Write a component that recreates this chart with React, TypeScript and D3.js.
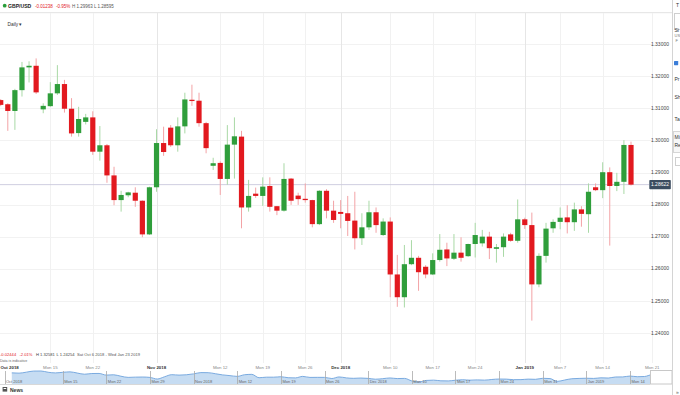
import React from "react";
import * as d3 from "d3";

// GBP/USD daily candles, Sun Oct 7 2018 .. Fri Jan 18 2019 (6 bars per week)
const opens = [
  1.3126, 1.3113, 1.3092, 1.3157, 1.3228, 1.3233, 1.3097, 1.3107, 1.3147, 1.3176,
  1.3099, 1.3023, 1.3058, 1.3072, 1.2965, 1.2985, 1.2891, 1.2814, 1.2829, 1.2837,
  1.2812, 1.2707, 1.2854, 1.2992, 1.3040, 1.2985, 1.3044, 1.3127, 1.3124, 1.3054,
  1.2921, 1.2930, 1.2880, 1.2987, 1.3012, 1.2791, 1.2834, 1.2827, 1.2858, 1.2795,
  1.2781, 1.2881, 1.2828, 1.2818, 1.2814, 1.2739, 1.2843, 1.2781, 1.2777, 1.2773,
  1.2750, 1.2695, 1.2729, 1.2776, 1.2705, 1.2747, 1.2582, 1.2511, 1.2614, 1.2634,
  1.2606, 1.2582, 1.2627, 1.2660, 1.2631, 1.2650, 1.2639, 1.2677, 1.2679, 1.2700,
  1.2662, 1.2667, 1.2707, 1.2687, 1.2754, 1.2736, 1.2551, 1.2640, 1.2726, 1.2746,
  1.2760, 1.2745, 1.2785, 1.2770, 1.2854, 1.2845, 1.2901, 1.2858, 1.2871, 1.2986,
];
const highs = [
  1.3129, 1.3116, 1.3161, 1.3245, 1.3247, 1.3256, 1.3116, 1.3182, 1.3235, 1.3189,
  1.3132, 1.3105, 1.3083, 1.3091, 1.3045, 1.2989, 1.2918, 1.2843, 1.2840, 1.2854,
  1.2813, 1.2856, 1.3035, 1.3043, 1.3048, 1.3072, 1.3149, 1.3174, 1.3149, 1.3058,
  1.2946, 1.2935, 1.3048, 1.3072, 1.3030, 1.2877, 1.2853, 1.2885, 1.2885, 1.2795,
  1.2929, 1.2883, 1.2837, 1.2866, 1.2815, 1.2845, 1.2848, 1.2812, 1.2814, 1.2827,
  1.2840, 1.2773, 1.2812, 1.2791, 1.2757, 1.2760, 1.2643, 1.2674, 1.2689, 1.2640,
  1.2611, 1.2648, 1.2708, 1.2681, 1.2708, 1.2698, 1.2678, 1.2743, 1.2721, 1.2715,
  1.2677, 1.2710, 1.2712, 1.2816, 1.2759, 1.2775, 1.2648, 1.2743, 1.2754, 1.2791,
  1.2798, 1.2806, 1.2795, 1.2866, 1.2866, 1.2932, 1.2916, 1.2899, 1.3001, 1.29963,
];
const lows = [
  1.3107, 1.3030, 1.3033, 1.3137, 1.3181, 1.3145, 1.3085, 1.3105, 1.3142, 1.3087,
  1.3012, 1.3012, 1.3050, 1.2955, 1.2937, 1.2868, 1.2798, 1.2778, 1.2823, 1.2793,
  1.2698, 1.2705, 1.2840, 1.2952, 1.2980, 1.2965, 1.3022, 1.3108, 1.3043, 1.2960,
  1.2908, 1.2830, 1.2862, 1.2881, 1.2726, 1.2778, 1.2821, 1.2796, 1.2778, 1.2767,
  1.2778, 1.2799, 1.2799, 1.2806, 1.2729, 1.2736, 1.2757, 1.2743, 1.2726, 1.2702,
  1.2660, 1.2674, 1.2721, 1.2712, 1.2702, 1.2511, 1.2481, 1.2479, 1.2611, 1.2531,
  1.2570, 1.2580, 1.2622, 1.2608, 1.2627, 1.2622, 1.2637, 1.2635, 1.2669, 1.2630,
  1.2619, 1.2637, 1.2684, 1.2681, 1.2724, 1.2438, 1.2542, 1.2619, 1.2712, 1.2723,
  1.2710, 1.2718, 1.2731, 1.2712, 1.2842, 1.2820, 1.2672, 1.2842, 1.2833, 1.28595,
];
const closes = [
  1.3111, 1.3092, 1.3157, 1.3228, 1.3233, 1.3150, 1.3108, 1.3147, 1.3176, 1.3099,
  1.3022, 1.3067, 1.3072, 1.2965, 1.2985, 1.2891, 1.2814, 1.2830, 1.2838, 1.2812,
  1.2707, 1.2854, 1.2992, 1.2964, 1.2985, 1.3044, 1.3128, 1.3123, 1.3054, 1.2976,
  1.2929, 1.2880, 1.2987, 1.3013, 1.2791, 1.2827, 1.2827, 1.2856, 1.2793, 1.2781,
  1.2880, 1.2812, 1.2817, 1.2814, 1.2739, 1.2843, 1.2781, 1.2752, 1.2771, 1.2749,
  1.2695, 1.2729, 1.2776, 1.2736, 1.2747, 1.2582, 1.2511, 1.2614, 1.2634, 1.2589,
  1.2582, 1.2627, 1.2659, 1.2632, 1.2650, 1.2634, 1.2677, 1.2705, 1.2700, 1.2664,
  1.2667, 1.2700, 1.2687, 1.2754, 1.2736, 1.2551, 1.2640, 1.2725, 1.2746, 1.2759,
  1.2745, 1.2785, 1.2771, 1.2840, 1.2845, 1.2901, 1.2858, 1.2871, 1.2986, 1.28622,
];

const priceTicks = [1.24, 1.25, 1.26, 1.27, 1.28, 1.29, 1.3, 1.31, 1.32, 1.33];
const lastPrice = 1.28622;

// bottom axis labels and the bar index each one sits on
const axisLabels = ["Oct 2018", "Mon 15", "Mon 22", "Nov 2018", "Mon 12", "Mon 19", "Mon 26",
  "Dec 2018", "Mon 10", "Mon 17", "Mon 24", "Jan 2019", "Mon 7", "Mon 14", "Mon 21"];
const axisIdx = [-6, 7, 13, 22, 31, 37, 43, 48, 55, 61, 67, 74, 79, 85, 92];

// navigator labels
const navLabels = ["Oct 2018", "Mon 15", "Mon 22", "Mon 29", "Nov 2018", "Mon 12", "Mon 19",
  "Mon 26", "Dec 2018", "Mon 10", "Mon 17", "Mon 24", "Mon 31", "Jan 2019", "Mon 14"];
const navIdx = [-1, 7, 13, 19, 25, 31, 37, 43, 49, 55, 61, 67, 73, 79, 85];

const FONT = "'Liberation Sans', Arial, sans-serif";
const UP = "#2f9e3b", DOWN = "#e2191f";
const UP_WICK = "#a9d9a6", DOWN_WICK = "#f3a3a6";

export default function App() {
  const W = 680, H = 395;
  const plotRight = 652;

  const x = d3.scaleLinear().domain([0, 89]).range([0.73, 631]);
  const y = d3.scaleLinear().domain([1.24, 1.33]).range([332.8, 44.3]);

  const nx = d3.scaleLinear().domain([7, 85]).range([62.7, 630]);
  const ny = d3.scaleLinear().domain(d3.extent(closes) as [number, number]).range([382, 371]);
  const navArea = d3.area<number>()
    .x((_, i) => nx(i)).y0(384).y1(d => ny(d))
    .curve(d3.curveMonotoneX)(closes) || "";
  const navLine = d3.line<number>()
    .x((_, i) => nx(i)).y(d => ny(d))
    .curve(d3.curveMonotoneX)(closes) || "";

  const isMonth = (s: string) => !s.startsWith("Mon");

  return (
    <svg width={W} height={H} style={{ position: "fixed", left: 0, top: 0, background: "#fff" }}
      fontFamily={FONT}>
      <rect width={W} height={H} fill="#fff" />

      {/* header */}
      <circle cx={4.7} cy={5.7} r={1.9} fill="#2a9d3a" />
      <text x={8} y={7.6} fontSize={5.1} fontWeight="bold" fill="#222">GBP/USD</text>
      <text x={35} y={7.6} fontSize={4.5} fill="#e2191f">-0.01238</text>
      <text x={56} y={7.6} fontSize={4.5} fill="#e2191f">-0.95%</text>
      <text x={72} y={7.6} fontSize={4.5} fill="#555">H 1.29963  L 1.28595</text>
      <line x1={0} x2={672} y1={12.7} y2={12.7} stroke="#e2e2e2" />

      {/* grid */}
      {priceTicks.map(p => (
        <line key={"h" + p} x1={0} x2={plotRight} y1={Math.round(y(p)) + 0.5} y2={Math.round(y(p)) + 0.5}
          stroke="#f2f2f2" />
      ))}
      {axisIdx.map((d, i) => x(d) >= 0 && (
        <line key={"v" + i} x1={Math.round(x(d)) + 0.5} x2={Math.round(x(d)) + 0.5} y1={13} y2={363}
          stroke={isMonth(axisLabels[i]) ? "#e6e6e6" : "#f1f1f1"} />
      ))}

      <text x={7.5} y={25.7} fontSize={4.8} fill="#333">Daily ▾</text>

      {/* last price line */}
      <line x1={0} x2={649} y1={y(lastPrice)} y2={y(lastPrice)} stroke="#c9c8dc" strokeWidth={0.9} />

      {/* candles */}
      {closes.map((c, i) => {
        const o = opens[i];
        const up = c >= o;
        const cx = x(i);
        const top = y(Math.max(o, c));
        const h = Math.max(1, Math.abs(y(o) - y(c)));
        return (
          <g key={i}>
            <line x1={cx} x2={cx} y1={y(highs[i])} y2={y(lows[i])}
              stroke={up ? UP_WICK : DOWN_WICK} strokeWidth={1} />
            <rect x={cx - 2.6} y={top} width={5.2} height={h} fill={up ? UP : DOWN} />
          </g>
        );
      })}

      {/* price axis */}
      {priceTicks.map(p => (
        <text key={"t" + p} x={669} y={y(p) + 1.8} fontSize={5} textAnchor="end" fill="#444">
          {p.toFixed(5)}
        </text>
      ))}
      <rect x={649.3} y={y(lastPrice) - 4.6} width={21.5} height={9.2} fill="#3b4c60" rx={0.8} />
      <text x={660} y={y(lastPrice) + 1.8} fontSize={5} textAnchor="middle" fill="#fff">
        {lastPrice.toFixed(5)}
      </text>

      {/* range info */}
      <g fontSize={4.1}>
        <text x={0} y={355.6} fill="#e2191f">-0.02444</text>
        <text x={19.5} y={355.6} fill="#e2191f">-2.01%</text>
        <text x={36} y={355.6} fill="#444">H 1.32581</text>
        <text x={56.5} y={355.6} fill="#444">L 1.24254</text>
        <text x={77} y={355.6} fill="#555">Sat Oct 6 2018 - Wed Jan 23 2019</text>
      </g>
      <text x={0} y={362} fontSize={3.6} fill="#666">Data is indicative</text>

      {/* bottom axis labels */}
      {axisIdx.map((d, i) => {
        const px = x(d);
        const edge = px < 12;
        return (
          <text key={"a" + i} x={edge ? 0.5 : px} y={368.6} fontSize={4.4}
            textAnchor={edge ? "start" : "middle"}
            fontWeight={isMonth(axisLabels[i]) ? "bold" : "normal"}
            fill={isMonth(axisLabels[i]) ? "#333" : "#888"}>
            {axisLabels[i]}
          </text>
        );
      })}

      {/* navigator */}
      <path d={navArea} fill="#c6dcf2" />
      <path d={navLine} fill="none" stroke="#6ea3dc" strokeWidth={0.9} />
      <line x1={0} x2={650} y1={384.5} y2={384.5} stroke="#d8d8d8" />
      {navIdx.map((d, i) => (
        <g key={"n" + i}>
          <line x1={Math.round(nx(d)) + 0.5} x2={Math.round(nx(d)) + 0.5} y1={371} y2={384}
            stroke="#a9a9a9" strokeWidth={0.8} />
          <text x={nx(d) + 1.5} y={382.6} fontSize={4} fill="#666">{navLabels[i]}</text>
        </g>
      ))}
      <rect x={650.5} y={370.5} width={21.5} height={13.5} fill="#fff" stroke="#c8c8c8" />

      {/* news */}
      <rect x={2.6} y={387} width={4.6} height={4.6} fill="#555" />
      <rect x={3.6} y={388} width={2.6} height={1} fill="#fff" />
      <text x={10} y={391.6} fontSize={5} fontWeight="bold" fill="#333">News</text>

      {/* side panel edge */}
      <line x1={672.5} x2={672.5} y1={0} y2={H} stroke="#d4d4d4" />
      <g fontSize={5} fill="#333">
        <text x={676} y={7}>T</text>
        <rect x={674.5} y={13.5} width={10} height={16} fill="none" stroke="#cfcfcf" />
        <text x={674.5} y={32}>Si</text>
        <text x={674.5} y={37} fontSize={4} fill="#777">US</text>
        <text x={675.5} y={42} fontSize={4} fill="#777">F</text>
        <rect x={674} y={61} width={4.2} height={4.2} fill="#3b7dd8" rx={0.6} />
        <text x={674.5} y={81}>Pr</text>
        <text x={674.5} y={99}>Sh</text>
        <text x={674.5} y={121}>Ta</text>
        <rect x={673.5} y={131.5} width={10} height={21} fill="#f7f7f7" stroke="#d6d6d6" />
        <text x={674.5} y={139}>Mi</text>
        <text x={674.5} y={146.5}>Re</text>
        <rect x={675.5} y={157.5} width={8} height={8} fill="none" stroke="#cfcfcf" />
        <text x={676} y={393.5} fontSize={5} fill="#666">»</text>
      </g>
    </svg>
  );
}
